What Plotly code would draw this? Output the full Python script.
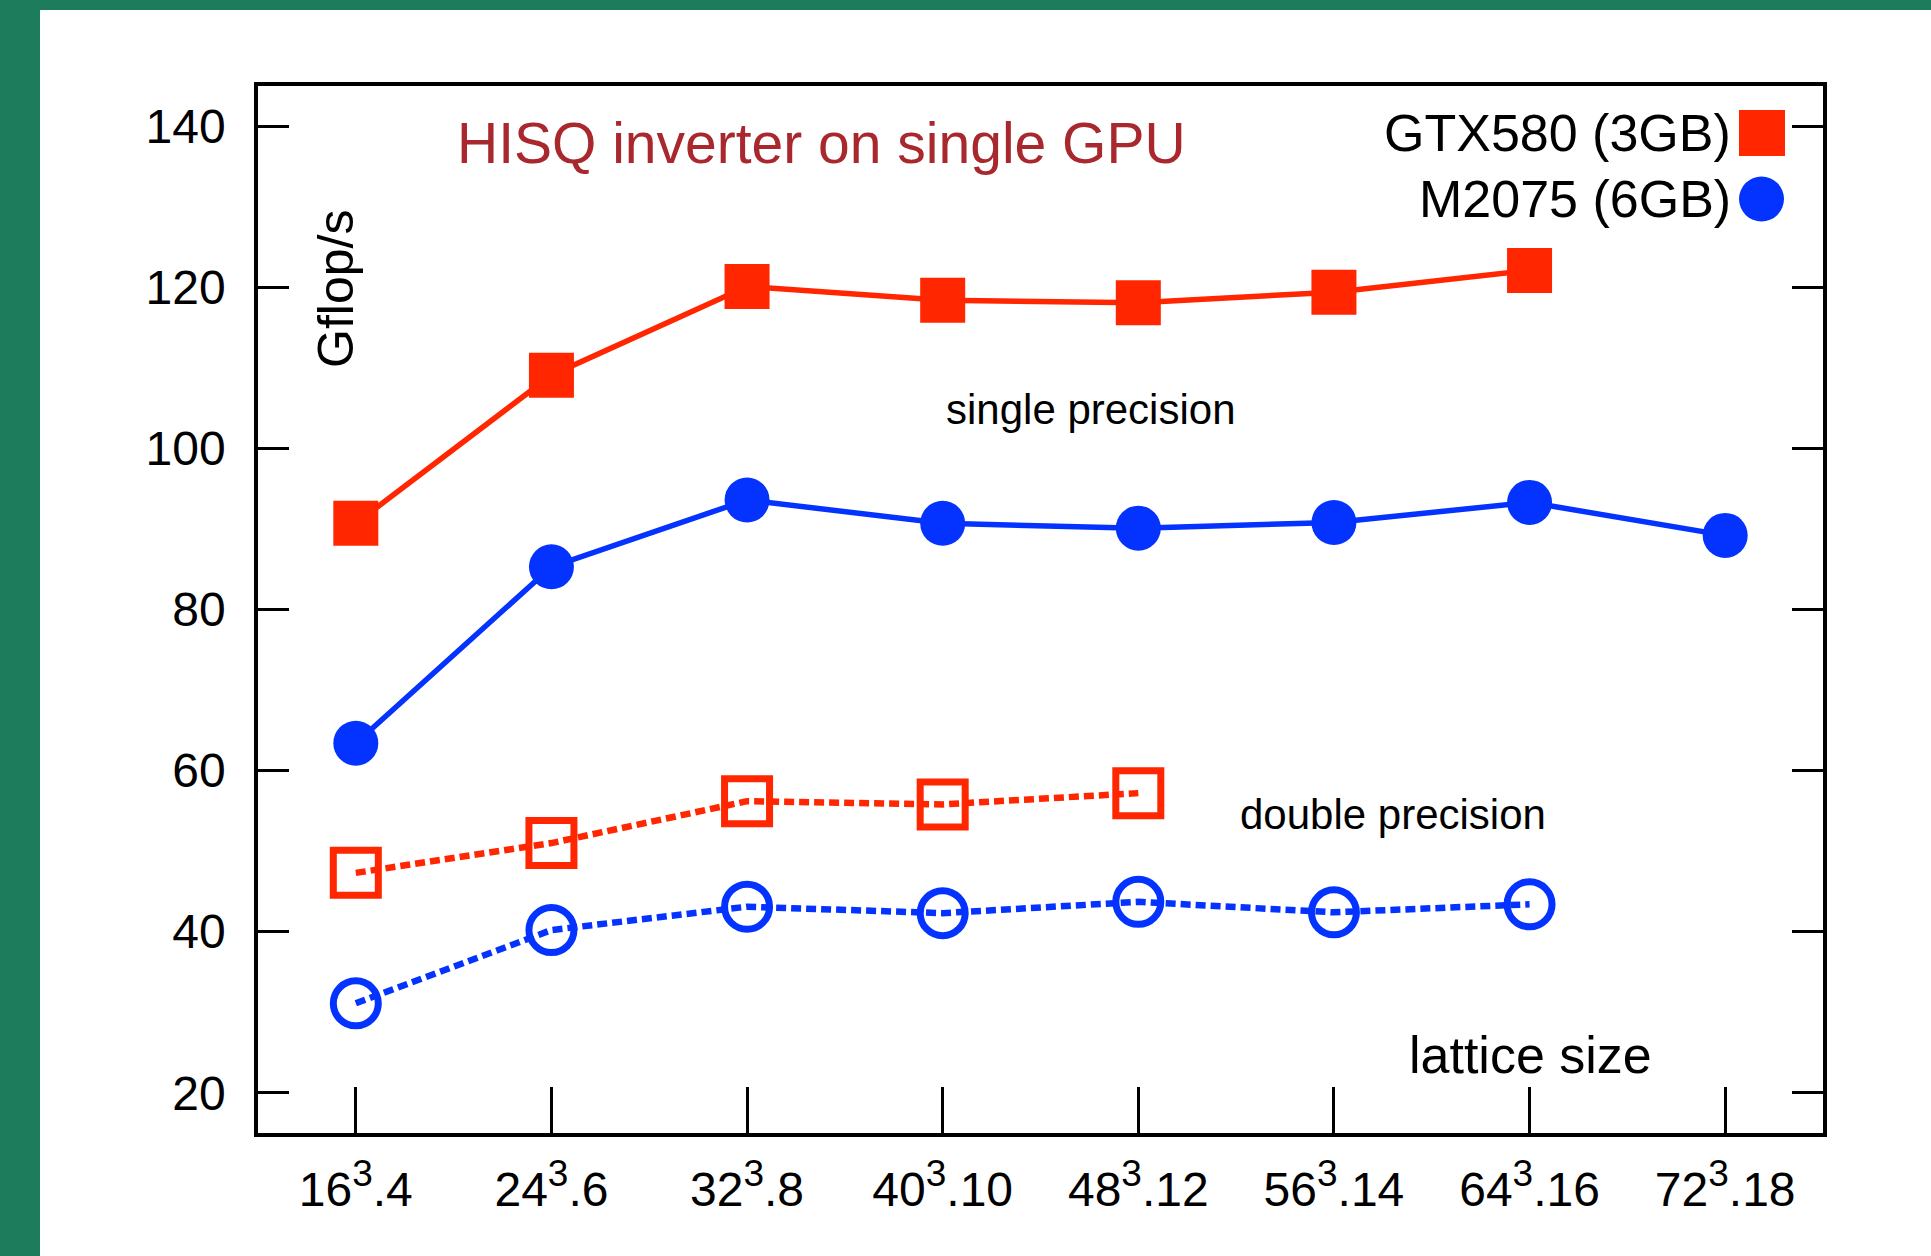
import plotly.graph_objects as go

# ---- data ----
sizes = ["16", "24", "32", "40", "48", "56", "64", "72"]
time_ext = ["4", "6", "8", "10", "12", "14", "16", "18"]
lattice = [f"{s}<sup><span style=\"font-size:37px\">3</span></sup>.{t}" for s, t in zip(sizes, time_ext)]
x_idx = list(range(len(lattice)))

gtx_single = [90.7, 109.1, 120.1, 118.4, 118.1, 119.4, 122.1]
m2075_single = [63.4, 85.3, 93.6, 90.7, 90.1, 90.8, 93.3, 89.2]
gtx_double = [47.3, 51.0, 56.2, 55.8, 57.2]
m2075_double = [31.1, 40.2, 43.1, 42.3, 43.7, 42.4, 43.4]

y_ticks = [20, 40, 60, 80, 100, 120, 140]

RED = "#FF2600"
BLUE = "#0433FF"
GREEN = "#1C7C5C"
TITLE_RED = "#A8282E"
FONT = "Liberation Sans, Arial, Helvetica, sans-serif"

# geometry (pixels)
W, H = 1931, 1256
L, R, T, B = 258, 1931 - 1823, 86, 1256 - 1133
PW, PH = W - L - R, H - T - B


def px(xp):
    return (xp - L) / PW


def py(yp):
    return (H - B - yp) / PH


fig = go.Figure()

fig.add_trace(go.Scatter(
    x=x_idx[:len(gtx_double)], y=gtx_double, mode="lines+markers",
    line=dict(color=RED, width=6.5, dash="10px,5px"),
    marker=dict(symbol="square-open", size=45, color=RED, line=dict(width=7, color=RED)),
    showlegend=False))
fig.add_trace(go.Scatter(
    x=x_idx[:len(m2075_double)], y=m2075_double, mode="lines+markers",
    line=dict(color=BLUE, width=6.5, dash="10px,5px"),
    marker=dict(symbol="circle-open", size=45, color=BLUE, line=dict(width=7, color=BLUE)),
    showlegend=False))
fig.add_trace(go.Scatter(
    x=x_idx[:len(m2075_single)], y=m2075_single, mode="lines+markers",
    line=dict(color=BLUE, width=5.5),
    marker=dict(symbol="circle", size=45, color=BLUE),
    name="M2075 (6GB)", showlegend=False))
fig.add_trace(go.Scatter(
    x=x_idx[:len(gtx_single)], y=gtx_single, mode="lines+markers",
    line=dict(color=RED, width=5.5),
    marker=dict(symbol="square", size=45, color=RED),
    name="GTX580 (3GB)", showlegend=False))

shapes = [
    # white page area over green background
    dict(type="rect", xref="paper", yref="paper", x0=px(40), x1=px(W + 5), y0=py(H + 5), y1=py(10),
         fillcolor="white", line=dict(width=0), layer="below"),
    # legend symbols
    dict(type="rect", xref="paper", yref="paper", xsizemode="pixel", ysizemode="pixel",
         xanchor=px(1762), yanchor=py(133), x0=-23, x1=23, y0=-23, y1=23,
         fillcolor=RED, line=dict(width=0)),
    dict(type="circle", xref="paper", yref="paper", xsizemode="pixel", ysizemode="pixel",
         xanchor=px(1761.5), yanchor=py(199), x0=-22.5, x1=22.5, y0=-22.5, y1=22.5,
         fillcolor=BLUE, line=dict(width=0)),
]

annotations = [
    dict(text="HISQ inverter on single GPU", x=px(821), y=py(143), xref="paper", yref="paper",
         showarrow=False, xanchor="center", yanchor="middle",
         font=dict(family=FONT, size=57, color=TITLE_RED)),
    dict(text="GTX580 (3GB)", x=px(1733), y=py(133), xref="paper", yref="paper",
         showarrow=False, xanchor="right", yanchor="middle",
         font=dict(family=FONT, size=52, color="black")),
    dict(text="M2075 (6GB)", x=px(1733), y=py(199), xref="paper", yref="paper",
         showarrow=False, xanchor="right", yanchor="middle",
         font=dict(family=FONT, size=52, color="black")),
    dict(text="Gflop/s", x=px(336), y=py(289), xref="paper", yref="paper", textangle=-90,
         showarrow=False, xanchor="center", yanchor="middle",
         font=dict(family=FONT, size=50, color="black")),
    dict(text="single precision", x=px(1091), y=py(409), xref="paper", yref="paper",
         showarrow=False, xanchor="center", yanchor="middle",
         font=dict(family=FONT, size=42, color="black")),
    dict(text="double precision", x=px(1393), y=py(814), xref="paper", yref="paper",
         showarrow=False, xanchor="center", yanchor="middle",
         font=dict(family=FONT, size=42, color="black")),
    dict(text="lattice size", x=px(1530), y=py(1055), xref="paper", yref="paper",
         showarrow=False, xanchor="center", yanchor="middle",
         font=dict(family=FONT, size=52, color="black")),
]

fig.update_layout(
    width=W, height=H,
    margin=dict(l=L, r=R, t=T, b=B, pad=0),
    paper_bgcolor=GREEN, plot_bgcolor="white",
    font=dict(family=FONT, size=48, color="black"),
    shapes=shapes, annotations=annotations, showlegend=False,
)
fig.update_xaxes(
    range=[-0.5, 7.5], tickmode="array", tickvals=x_idx, ticktext=lattice,
    ticks="inside", ticklen=46, tickwidth=3, tickcolor="black",
    showline=True, linewidth=3.5, linecolor="black", mirror=True,
    showgrid=False, zeroline=False, ticklabelstandoff=12,
    tickfont=dict(family=FONT, size=48, color="black"),
)
fig.update_yaxes(
    range=[15, 145], tickmode="array", tickvals=y_ticks,
    ticks="inside", ticklen=31, tickwidth=3, tickcolor="black",
    showline=True, linewidth=3.5, linecolor="black", mirror="ticks",
    showgrid=False, zeroline=False, ticklabelstandoff=19,
    tickfont=dict(family=FONT, size=48, color="black"),
)

fig.write_html("out.html")
